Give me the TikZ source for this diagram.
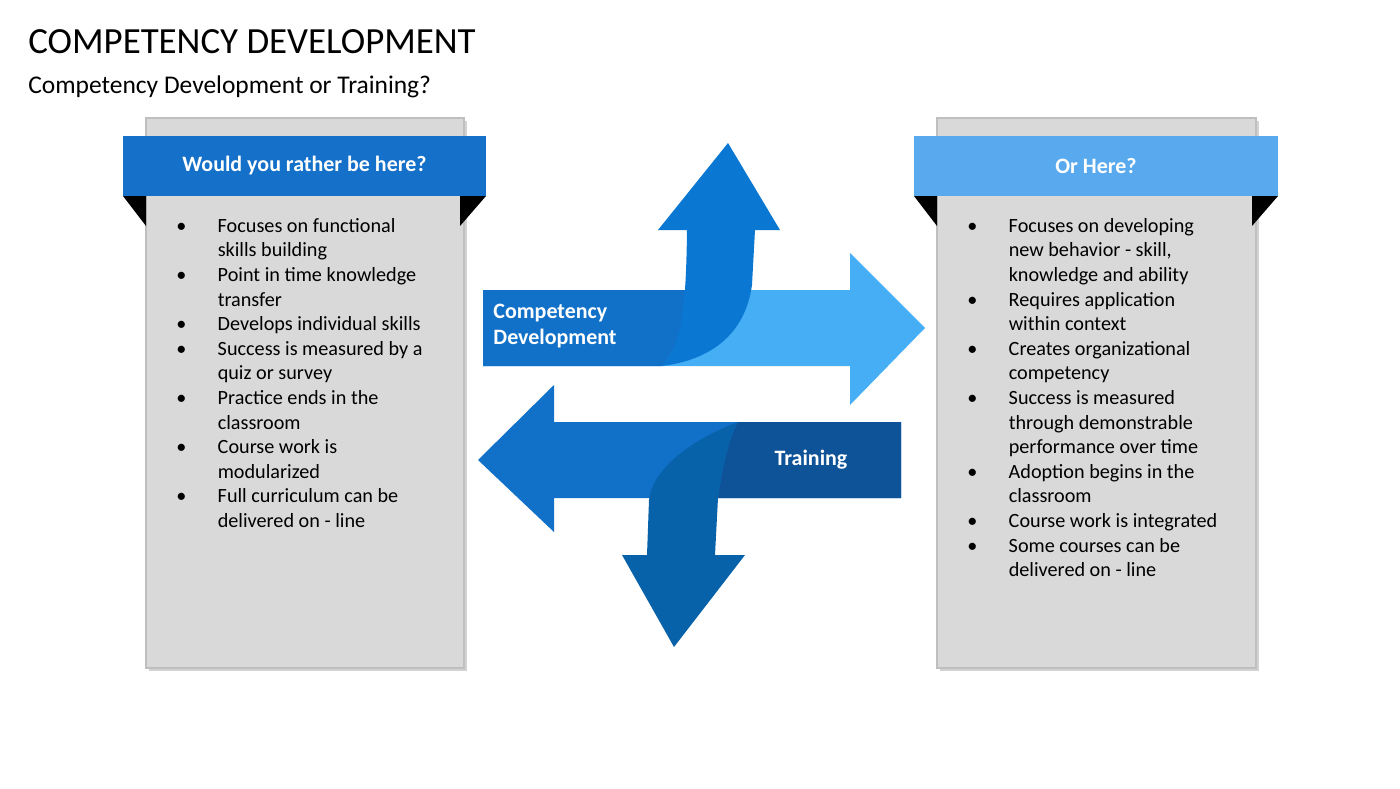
\documentclass[tikz,border=0pt]{standalone}
\usepackage{fontspec}
\setmainfont{Carlito}
\definecolor{cdblue}{HTML}{1170C8}
\definecolor{uplight}{HTML}{0A78D2}
\definecolor{skyblue}{HTML}{45AEF5}
\definecolor{navyblue}{HTML}{0E5298}
\definecolor{downblue}{HTML}{0862AA}
\definecolor{headleft}{HTML}{1470C8}
\definecolor{headright}{HTML}{59A9EE}
\definecolor{panelgray}{HTML}{D9D9D9}
\tikzset{
  panel/.style={fill=panelgray, draw=black!25, line width=0.6pt},
  shade/.style={fill=black!35, opacity=0.5},
  headbar/.style={draw=none},
  headtext/.style={text=white, font=\bfseries\fontsize{12.5}{15}\selectfont},
  listtext/.style={anchor=north west, inner sep=0pt, font=\fontsize{11.5}{14}\selectfont, align=left},
  arrowtext/.style={text=white, font=\bfseries\fontsize{12.5}{15}\selectfont, align=left}
}
\newcommand{\blt}{\textbullet\hspace{1.55em}}
\newcommand{\cnt}{\hspace{2.05em}}
\begin{document}
\begin{tikzpicture}[x=0.02cm, y=-0.02cm]
	\useasboundingbox (0,0) rectangle (1400,788);
	
	% titles
	\node [anchor=west, inner sep=0pt, font=\fontsize{21}{25}\selectfont] (title) at (28,42) {COMPETENCY DEVELOPMENT};
	\node [anchor=west, inner sep=0pt, font=\fontsize{14.5}{17}\selectfont] (subtitle) at (28,87) {Competency Development or Training?};
	
	% left panel
	\fill [shade] (149,121) rectangle (467,671);
	\draw [panel] (146,118) rectangle (464,668);
	\fill (123,196) -- (146,196) -- (146,226) -- cycle;
	\fill (486,196) -- (460,196) -- (460,226) -- cycle;
	\fill [headleft] (123,136) rectangle (486,196);
	\node [headtext] (lefthead) at (304.5,166) {Would you rather be here?};
	\node [listtext] (leftlist) at (176,218) {%
		\blt Focuses on functional\\ \cnt skills building\\
		\blt Point in time knowledge\\ \cnt transfer\\
		\blt Develops individual skills\\
		\blt Success is measured by a\\ \cnt quiz or survey\\
		\blt Practice ends in the\\ \cnt classroom\\
		\blt Course work is\\ \cnt modularized\\
		\blt Full curriculum can be\\ \cnt delivered on - line};
	
	% right panel
	\fill [shade] (940,121) rectangle (1259,671);
	\draw [panel] (937,118) rectangle (1256,668);
	\fill (914,196) -- (937,196) -- (937,226) -- cycle;
	\fill (1278,196) -- (1252,196) -- (1252,226) -- cycle;
	\fill [headright] (914,136) rectangle (1278,196);
	\node [headtext] (righthead) at (1096,166) {Or Here?};
	\node [listtext] (rightlist) at (967,218) {%
		\blt Focuses on developing\\ \cnt new behavior - skill,\\ \cnt knowledge and ability\\
		\blt Requires application\\ \cnt within context\\
		\blt Creates organizational\\ \cnt competency\\
		\blt Success is measured\\ \cnt through demonstrable\\ \cnt performance over time\\
		\blt Adoption begins in the\\ \cnt classroom\\
		\blt Course work is integrated\\
		\blt Some courses can be\\ \cnt delivered on - line};
	
	% upper pair of arrows
	\fill [skyblue] (483,290) -- (850,290) -- (850,253) -- (925,328) -- (850,405) -- (850,366) -- (483,366) -- cycle;
	\fill [cdblue] (483,290) -- (686,290) .. controls (684,330) and (676,350) .. (662,366) -- (483,366) -- cycle;
	\fill [uplight] (662,366) .. controls (680,345) and (686,320) .. (687,230) -- (658,230) -- (728,143)
		-- (780,230) -- (755,230) -- (752,285) .. controls (745,335) and (710,360) .. cycle;
	\node [arrowtext] (cdlabel) at (555,326) {Competency\\Development};
	
	% lower pair of arrows
	\fill [cdblue] (478,460) -- (554,385) -- (554,422) -- (901,422) -- (901,498) -- (554,498) -- (554,532) -- cycle;
	\fill [navyblue] (738,422) -- (901,422) -- (901,498) -- (718,498) .. controls (722,470) and (728,440) .. cycle;
	\fill [downblue] (738,422) .. controls (690,440) and (652,470) .. (649,500) -- (647,555) -- (622,555) -- (674,647)
		-- (745,555) -- (715,555) -- (718,498) .. controls (722,470) and (728,440) .. cycle;
	\node [arrowtext] (trlabel) at (811,460) {Training};
	
\end{tikzpicture}
\end{document}
